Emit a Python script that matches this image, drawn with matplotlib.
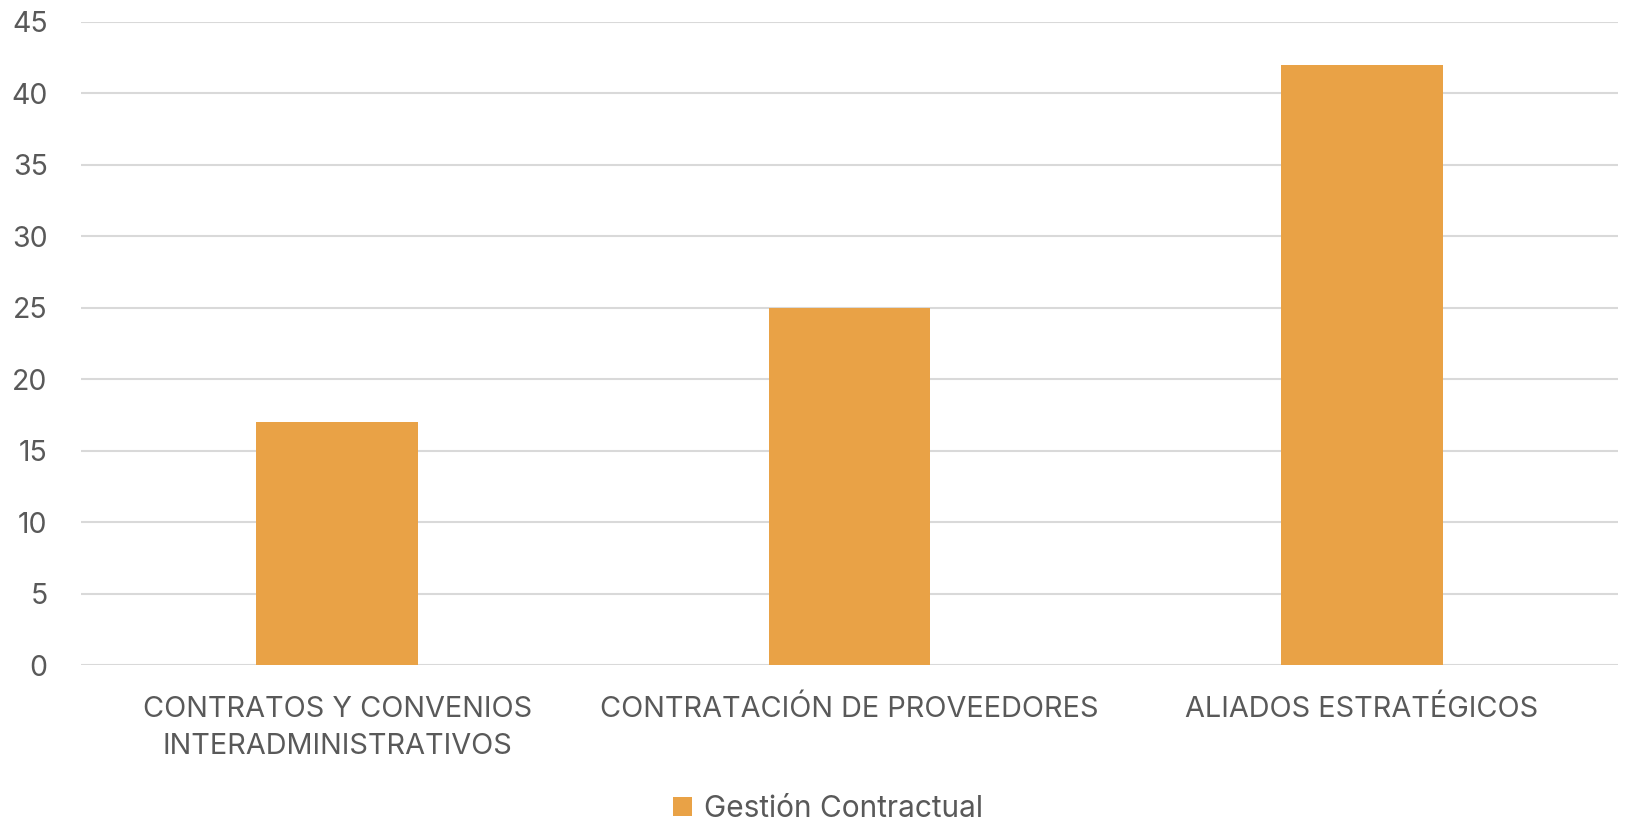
import matplotlib
matplotlib.use("Agg")
import matplotlib.pyplot as plt
import numpy as np

categories = ["CONTRATOS Y CONVENIOS\nINTERADMINISTRATIVOS", "CONTRATACIÓN DE PROVEEDORES", "ALIADOS ESTRATÉGICOS"]
values = [17, 25, 42]
series_name = "Gestión Contractual"
yticks = [0, 5, 10, 15, 20, 25, 30, 35, 40, 45]

plt.rcParams['font.family'] = ['Inter', 'DejaVu Sans']
W, H = 1627, 824
fig = plt.figure(figsize=(W/100, H/100), dpi=100)
ax = fig.add_axes([81/W, 1-665/H, (1618-81)/W, (665-22)/H])

x = np.arange(len(categories))
ax.bar(x, values, width=0.316, color="#E9A246", label=series_name, zorder=3)
ax.set_xlim(-0.5, len(categories)-0.5)
ax.set_ylim(0, 45)
ax.set_yticks(yticks)
ax.set_xticks(x)
ax.set_xticklabels(categories, fontsize=20.8, color="#595959", linespacing=1.5)
ax.tick_params(axis='y', labelsize=20.5, labelcolor="#595959", length=0, pad=24)
ax.tick_params(axis='x', length=0, pad=22)
ax.grid(axis='y', color="#D9D9D9", linewidth=1.5, zorder=0)
for s in ax.spines.values():
    s.set_visible(False)

leg = fig.legend(loc='center', bbox_to_anchor=(828/W, 1-809/H), frameon=False,
                 fontsize=21.5, handlelength=0.65, handleheight=0.65, handletextpad=0.4)
for t in leg.get_texts():
    t.set_color("#595959")

fig.savefig("out.png", dpi=100)
